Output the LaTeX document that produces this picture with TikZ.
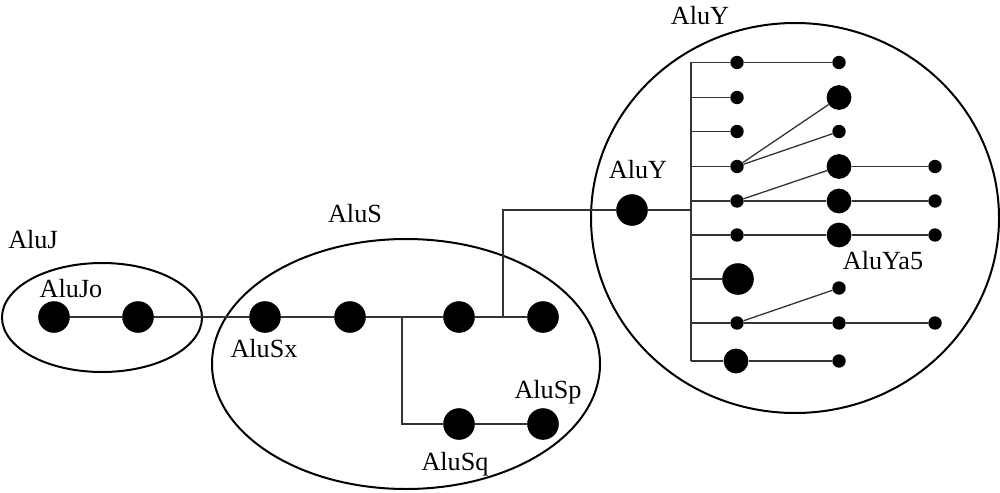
\documentclass[tikz,border=0pt]{standalone}
\usepackage{fontspec}
\setmainfont{Liberation Serif}
\begin{document}
\begin{tikzpicture}[x=1pt,y=-1pt,
  sd/.style={circle,fill=black,inner sep=0pt,minimum size=13.4pt},
  md/.style={circle,fill=black,inner sep=0pt,minimum size=24.8pt},
  bd/.style={circle,fill=black,inner sep=0pt,minimum size=31.6pt},
  lab/.style={anchor=base,font=\fontsize{26.2}{30}\selectfont,inner sep=0pt},
  con/.style={line width=1.3pt,draw=black!80},
  grp/.style={line width=2pt,draw=black}]
\useasboundingbox (0,0) rectangle (1000,492);
% group outlines
\draw[grp] (102,317.5) ellipse [x radius=100, y radius=54.5];
\draw[grp] (406,364) ellipse [x radius=194, y radius=125];
\draw[grp] (795,218) ellipse [x radius=204, y radius=195];
% labels
\node[lab] (lJ) at (33,248) {AluJ};
\node[lab] (lJo) at (71,297) {AluJo};
\node[lab] (lS) at (355,222) {AluS};
\node[lab] (lSx) at (264,357) {AluSx};
\node[lab] (lSp) at (548,398) {AluSp};
\node[lab] (lSq) at (455,470) {AluSq};
\node[lab] (lYt) at (700,25) {AluY};
\node[lab] (lY) at (638,178) {AluY};
\node[lab] (lYa) at (883,269) {AluYa5};
% AluJ / AluS dots
\node[bd] (j1) at (54,317) {};
\node[bd] (j2) at (138,317) {};
\node[bd] (sx) at (265,317) {};
\node[bd] (s2) at (350,317) {};
\node[bd] (s3) at (459,317) {};
\node[bd] (s4) at (543,317) {};
\node[bd] (sq) at (459,424) {};
\node[bd] (sp) at (543,424) {};
\coordinate (br1) at (402,317);
\coordinate (br2) at (402,424);
\coordinate (up1) at (503,317);
\coordinate (up2) at (503,210);
\draw[con] (j1) -- (j2) -- (sx) -- (s2) -- (s3) -- (s4);
\draw[con] (br1) -- (br2) -- (sq) -- (sp);
% AluY
\node[bd] (y0) at (632,210) {};
\coordinate (bbm) at (691,210);
\draw[con] (up1) -- (up2) -- (y0) -- (bbm);
\node[sd] (a1) at (737,62.5) {};
\node[sd] (b1) at (839,62.5) {};
\node[sd] (a2) at (737,97.5) {};
\node[md] (b2) at (839,97.5) {};
\node[sd] (a3) at (737,131.5) {};
\node[sd] (b3) at (839,131.5) {};
\node[sd] (a4) at (737,166.5) {};
\node[md] (b4) at (839,166.5) {};
\node[sd] (c4) at (935,166.5) {};
\node[sd] (a5) at (737,201) {};
\node[md] (b5) at (839,201) {};
\node[sd] (c5) at (935,201) {};
\node[sd] (a6) at (737,235) {};
\node[md] (b6) at (839,235) {};
\node[sd] (c6) at (935,235) {};
\node[bd] (a7) at (738,279) {};
\node[sd] (b7) at (839,288) {};
\node[sd] (a8) at (737,323) {};
\node[sd] (b8) at (839,323) {};
\node[sd] (c8) at (935,323) {};
\node[md] (a9) at (736,361) {};
\node[sd] (b9) at (839,361) {};
\coordinate (bt) at (691,62.5);
\coordinate (bb) at (691,361);
\draw[con] (bt) -- (bb);
\foreach \n in {a1,a2,a3,a4,a5,a6,a7,a8,a9}
  \draw[con] (bt |- \n) -- (\n);
\draw[con] (a1) -- (b1);
\draw[con] (a4) -- (b2);
\draw[con] (a4) -- (b3);
\draw[con] (b4) -- (c4);
\draw[con] (a5) -- (b4);
\draw[con] (a5) -- (b5) -- (c5);
\draw[con] (a6) -- (b6) -- (c6);
\draw[con] (a8) -- (b7);
\draw[con] (a8) -- (b8) -- (c8);
\draw[con] (a9) -- (b9);
\end{tikzpicture}
\end{document}
